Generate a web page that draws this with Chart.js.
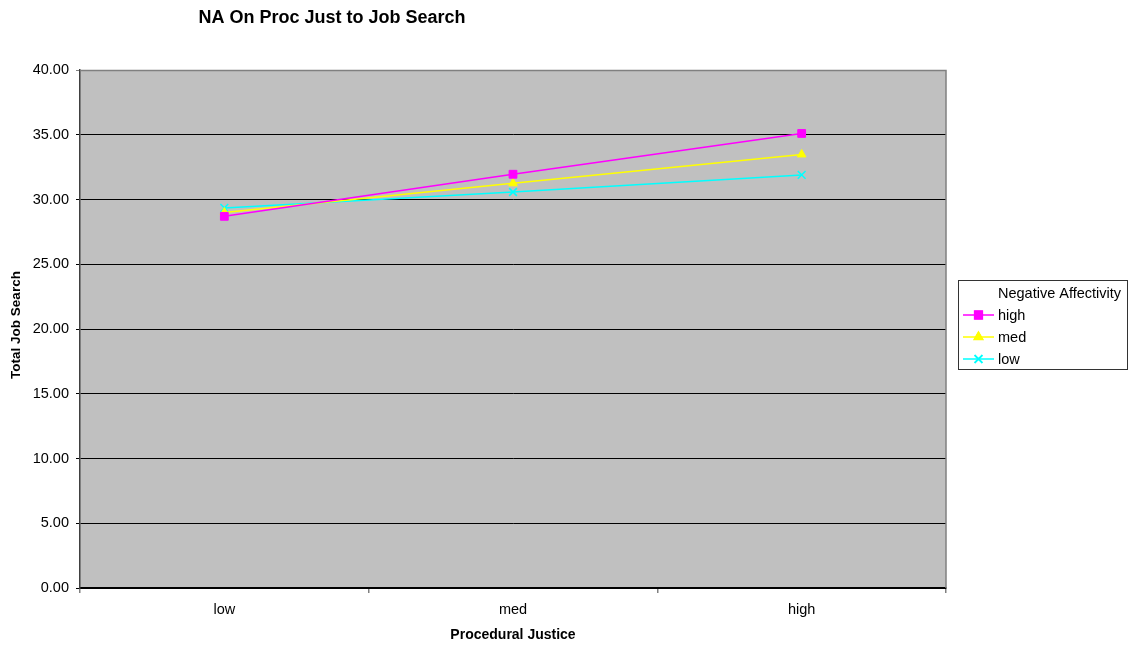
<!DOCTYPE html>
<html>
<head>
<meta charset="utf-8">
<title>NA On Proc Just to Job Search</title>
<script src="https://cdn.jsdelivr.net/npm/chart.js@4/dist/chart.umd.min.js"></script>
<style>
  html, body { margin: 0; padding: 0; background: #ffffff; }
  #wrap { width: 1135px; height: 648px; position: relative; }
</style>
</head>
<body>
<div id="wrap"><canvas id="chart"></canvas></div>
<script>
// Procedural justice levels on the x axis
const categories = ['low', 'med', 'high'];

// Total job search by negative affectivity group
const highNA = [28.7, 31.95, 35.1];
const medNA  = [29.0, 31.25, 33.48];
const lowNA  = [29.35, 30.58, 31.9];

// Y axis range and step
const yMin = 0;
const yMax = 40;
const yStep = 5;

const chartTitle = 'NA On Proc Just to Job Search';
const xTitle = 'Procedural Justice';
const yTitle = 'Total Job Search';
const legendTitle = 'Negative Affectivity';

const FONT = '"Liberation Sans", Arial, Helvetica, sans-serif';
const PLOT_BG = '#C0C0C0';

// Fills the plot area, draws the frame, the titles and the boxed legend
const decorations = {
  id: 'decorations',
  beforeDraw(chart) {
    const { ctx, chartArea: a } = chart;
    ctx.save();
    ctx.fillStyle = PLOT_BG;
    ctx.fillRect(a.left, a.top, a.right - a.left, a.bottom - a.top);
    ctx.restore();
  },
  beforeDatasetsDraw(chart) {
    const { ctx, chartArea: a } = chart;
    ctx.save();
    ctx.strokeStyle = '#808080';
    ctx.lineWidth = 1.5;
    ctx.beginPath();
    ctx.moveTo(a.left, a.top + 0.5);
    ctx.lineTo(a.right, a.top + 0.5);
    ctx.lineTo(a.right, a.bottom);
    ctx.stroke();
    ctx.restore();
  },
  afterDraw(chart) {
    const { ctx, chartArea: a } = chart;
    ctx.save();
    ctx.fillStyle = '#000';
    ctx.textAlign = 'center';
    ctx.textBaseline = 'middle';

    // chart title
    ctx.font = 'bold 18px ' + FONT;
    ctx.fillText(chartTitle, 332, 18);

    // x axis title
    ctx.font = 'bold 14px ' + FONT;
    ctx.fillText(xTitle, (a.left + a.right) / 2, 635);

    // y axis title
    ctx.save();
    ctx.translate(16, 325);
    ctx.rotate(-Math.PI / 2);
    ctx.font = 'bold 13.5px ' + FONT;
    ctx.fillText(yTitle, 0, 0);
    ctx.restore();

    // legend box
    const bx = 958, by = 280, bw = 169, bh = 89;
    ctx.fillStyle = '#fff';
    ctx.fillRect(bx, by, bw, bh);
    ctx.strokeStyle = '#333';
    ctx.lineWidth = 1;
    ctx.strokeRect(bx + 0.5, by + 0.5, bw, bh);

    ctx.fillStyle = '#000';
    ctx.textAlign = 'left';
    ctx.font = '14.5px ' + FONT;
    ctx.fillText(legendTitle, 998, 294);

    const rowY = [315, 337, 359];
    chart.data.datasets.forEach((ds, i) => {
      const y = rowY[i];
      ctx.strokeStyle = ds.borderColor;
      ctx.lineWidth = ds.borderWidth;
      ctx.beginPath();
      ctx.moveTo(963, y);
      ctx.lineTo(994, y);
      ctx.stroke();
      Chart.helpers.drawPoint(ctx, {
        pointStyle: ds.pointStyle,
        radius: ds.pointRadius,
        borderWidth: ds.pointBorderWidth,
        rotation: 0
      }, 978.5, y);
      ctx.fillStyle = ds.pointBackgroundColor;
      ctx.strokeStyle = ds.pointBorderColor;
      ctx.lineWidth = ds.pointBorderWidth;
      ctx.fill();
      ctx.stroke();
      ctx.fillStyle = '#000';
      ctx.fillText(ds.label, 998, y + 1);
    });
    ctx.restore();
  }
};

function series(label, data, color, style, radius, bw) {
  return {
    label,
    data,
    borderColor: color,
    backgroundColor: color,
    borderWidth: 1.5,
    pointStyle: style,
    pointRadius: radius,
    pointHoverRadius: radius,
    pointBackgroundColor: color,
    pointBorderColor: color,
    pointBorderWidth: bw,
    tension: 0,
    fill: false
  };
}

new Chart(document.getElementById('chart'), {
  type: 'line',
  data: {
    labels: categories,
    datasets: [
      series('high', highNA, '#FF00FF', 'rect', 5.5, 1),
      series('med', medNA, '#FFFF00', 'triangle', 5, 1),
      series('low', lowNA, '#00FFFF', 'crossRot', 5.5, 1.5)
    ]
  },
  options: {
    responsive: true,
    maintainAspectRatio: false,
    animation: false,
    events: [],
    layout: { padding: { top: 70, right: 189, left: 0, bottom: 0 } },
    plugins: {
      legend: { display: false },
      title: { display: false },
      tooltip: { enabled: false }
    },
    scales: {
      x: {
        offset: true,
        grid: {
          offset: true,
          drawOnChartArea: false,
          drawTicks: true,
          tickLength: 5,
          color: '#808080',
          lineWidth: 1.5
        },
        border: { display: true, color: '#000', width: 2 },
        ticks: {
          color: '#000',
          font: { family: FONT, size: 14.5 },
          padding: 8
        },
        afterFit(scale) { scale.height = 60; }
      },
      y: {
        min: yMin,
        max: yMax,
        grid: {
          drawTicks: true,
          tickLength: 4,
          color: ctx => (ctx.tick && ctx.tick.value === yMax) ? '#808080' : '#000',
          lineWidth: 1
        },
        border: { display: true, color: '#404040', width: 1.5 },
        ticks: {
          stepSize: yStep,
          color: '#000',
          font: { family: FONT, size: 14.5 },
          padding: 7,
          callback: v => Number(v).toFixed(2)
        },
        afterFit(scale) { scale.width = 80; }
      }
    }
  },
  plugins: [decorations]
});
</script>
</body>
</html>
